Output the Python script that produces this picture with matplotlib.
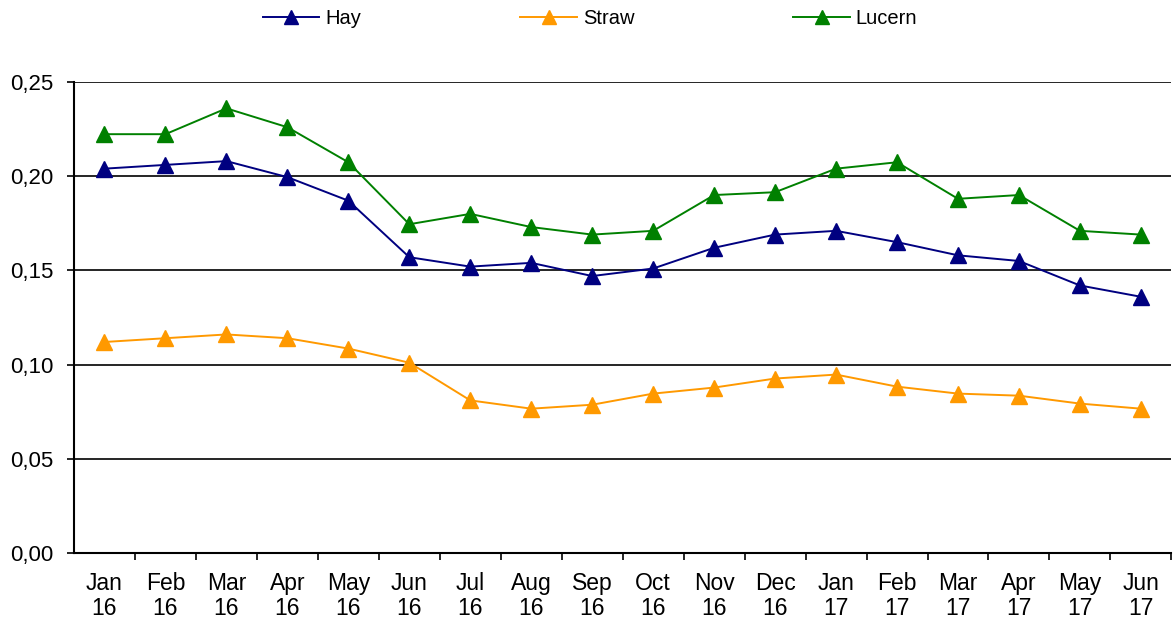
import matplotlib.pyplot as plt
from matplotlib.ticker import FuncFormatter, MultipleLocator

plt.rcParams['font.family'] = ['Liberation Sans', 'DejaVu Sans']

months = ['Jan\n16', 'Feb\n16', 'Mar\n16', 'Apr\n16', 'May\n16', 'Jun\n16',
          'Jul\n16', 'Aug\n16', 'Sep\n16', 'Oct\n16', 'Nov\n16', 'Dec\n16',
          'Jan\n17', 'Feb\n17', 'Mar\n17', 'Apr\n17', 'May\n17', 'Jun\n17']

hay = [0.204, 0.206, 0.208, 0.1995, 0.187, 0.157, 0.152, 0.154, 0.147,
       0.151, 0.162, 0.169, 0.171, 0.165, 0.158, 0.155, 0.142, 0.136]
straw = [0.112, 0.114, 0.116, 0.114, 0.1085, 0.101, 0.081, 0.0766, 0.0787,
         0.0846, 0.0878, 0.0926, 0.0947, 0.0883, 0.0846, 0.0835, 0.0793, 0.0766]
lucern = [0.2223, 0.2223, 0.236, 0.226, 0.2074, 0.1745, 0.180, 0.173, 0.169,
          0.171, 0.190, 0.1915, 0.204, 0.2074, 0.188, 0.190, 0.171, 0.169]

fig = plt.figure(figsize=(11.73, 6.24), dpi=100)
ax = fig.add_axes([0.0631, 0.1138, 0.9355, 0.7548])

x = range(len(months))
ax.plot(x, hay, color='#000080', marker='^', markersize=12, lw=1.4, label='Hay')
ax.plot(x, straw, color='#FF9900', marker='^', markersize=12, lw=1.4, label='Straw')
ax.plot(x, lucern, color='#008000', marker='^', markersize=12, lw=1.4, label='Lucern')

ax.set_xlim(-0.5, len(months) - 0.5)
ax.set_ylim(0, 0.25)
ax.yaxis.set_major_locator(MultipleLocator(0.05))
ax.yaxis.set_major_formatter(FuncFormatter(lambda v, p: f'{v:.2f}'.replace('.', ',')))
ax.grid(axis='y', color='black', lw=1.2)
ax.set_axisbelow(True)

ax.set_xticks(list(x))
ax.set_xticklabels(months, linespacing=1.15)
ax.set_xticks([i + 0.5 for i in range(len(months))], minor=True)
ax.tick_params(axis='x', which='major', length=0, pad=13.5, labelsize=16.5)
ax.tick_params(axis='x', which='minor', length=5, width=1.2)
ax.tick_params(axis='y', length=5, width=1.2, labelsize=16, pad=10)

for s in ['top', 'right']:
    ax.spines[s].set_visible(False)
for s in ['left', 'bottom']:
    ax.spines[s].set_linewidth(1.5)

fig.legend(loc='center left', bbox_to_anchor=(263 / 1173, 1 - 19 / 624), ncol=3,
           frameon=False, fontsize=14.5, handlelength=2.8, columnspacing=7.9,
           handletextpad=0.3, borderpad=0, borderaxespad=0, markerscale=0.85)

plt.savefig('out.png', dpi=100)
